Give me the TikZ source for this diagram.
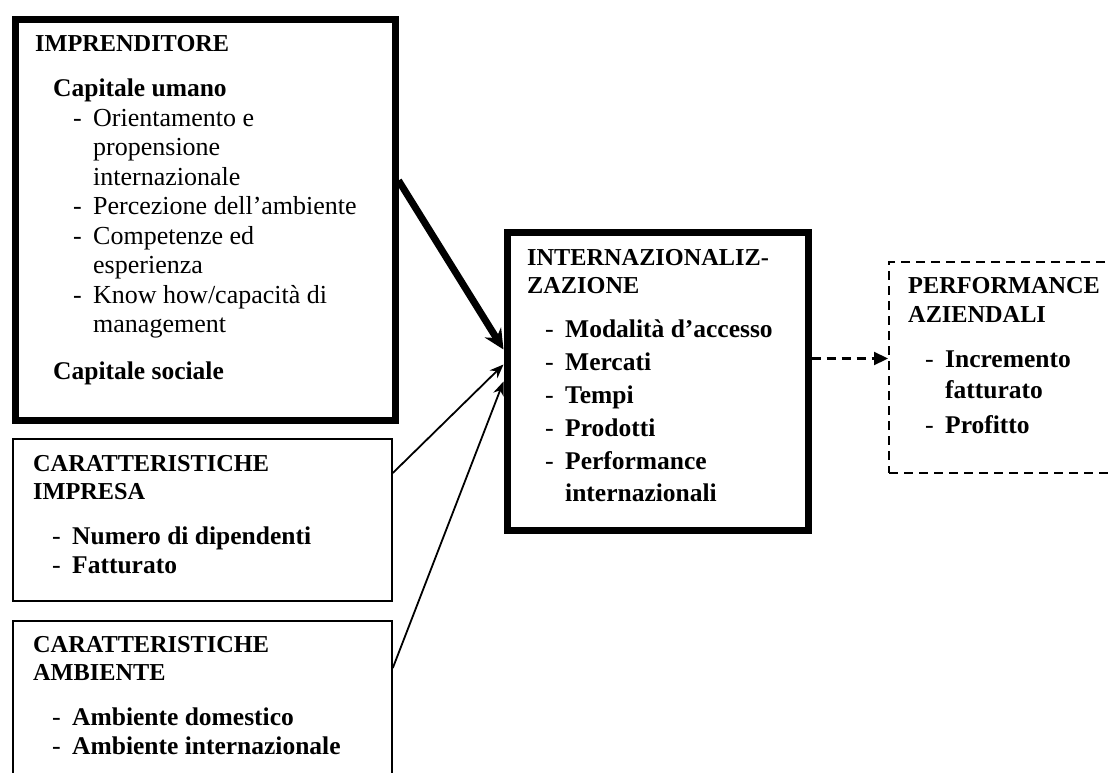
\documentclass[tikz,border=0pt]{standalone}
\usepackage{fontspec}
\setmainfont{Liberation Serif}
\usetikzlibrary{arrows.meta,calc}
% dash item and its continuation line inside a text block
\newcommand{\lstdash}[1]{\hspace*{#1}\makebox[20pt][l]{-}}
\newcommand{\lstcont}[1]{\hspace*{#1}\hspace*{20pt}}
% heading and bold entry faces
\newcommand{\hd}[1]{{\fontsize{24.3}{29.5}\selectfont\bfseries #1}}
\newcommand{\bent}[1]{{\fontsize{25.5}{29.5}\selectfont\bfseries #1}}
\begin{document}
\begin{tikzpicture}[x=1pt,y=-1pt,
  heavybox/.style={draw, line width=7pt, inner sep=0pt, anchor=north west},
  lightbox/.style={draw, line width=1.8pt, inner sep=0pt, anchor=north west},
  dashbox/.style={draw, line width=2pt, dash pattern=on 9pt off 6pt, inner sep=0pt, anchor=north west},
  txt/.style={inner sep=0pt, anchor=base west},
  heavyarrow/.style={line width=7pt, -{Stealth[length=20pt,width=19pt]}},
  lightarrow/.style={line width=1.8pt, -{Stealth[length=14pt,width=11pt]}},
  dasharrow/.style={line width=2.2pt, dash pattern=on 9pt off 6pt, -{Triangle[length=14pt,width=13pt]}},
]
\useasboundingbox (0,0) rectangle (1108,773);
\clip (0,0) rectangle (1108,773);

% frames
\node[heavybox, minimum width=380pt, minimum height=400pt] (imp) at (11.5,16.5) {};
\node[lightbox, minimum width=379pt, minimum height=162pt] (impresa) at (12,438) {};
\node[lightbox, minimum width=379pt, minimum height=220pt] (ambiente) at (12,620) {};
\node[heavybox, minimum width=301pt, minimum height=298pt] (intl) at (503.5,228.5) {};
\node[dashbox, minimum width=250pt, minimum height=211pt] (perf) at (888,261) {};

% texts
\node[txt] (impT) at (35,52) {\fontsize{26}{29.5}\selectfont
\begin{tabular}[t]{@{}l@{}}
\hd{IMPRENDITORE}\\[15.5pt]
\hspace*{18pt}\bent{Capitale umano}\\
\lstdash{38pt}Orientamento e\\
\lstcont{38pt}propensione\\
\lstcont{38pt}internazionale\\
\lstdash{38pt}Percezione dell’ambiente\\
\lstdash{38pt}Competenze ed\\
\lstcont{38pt}esperienza\\
\lstdash{38pt}Know how/capacità di\\
\lstcont{38pt}management\\[17.5pt]
\hspace*{18pt}\bent{Capitale sociale}
\end{tabular}};

\node[txt] (impresaT) at (33,471) {\fontsize{26}{28.5}\selectfont
\begin{tabular}[t]{@{}l@{}}
\hd{CARATTERISTICHE}\\
\hd{IMPRESA}\\[16.5pt]
\lstdash{19pt}\bent{Numero di dipendenti}\\
\lstdash{19pt}\bent{Fatturato}
\end{tabular}};

\node[txt] (ambienteT) at (33,652) {\fontsize{26}{28.5}\selectfont
\begin{tabular}[t]{@{}l@{}}
\hd{CARATTERISTICHE}\\
\hd{AMBIENTE}\\[16.5pt]
\lstdash{19pt}\bent{Ambiente domestico}\\
\lstdash{19pt}\bent{Ambiente internazionale}
\end{tabular}};

\node[txt] (intlT) at (527,265) {\fontsize{26}{33}\selectfont
\begin{tabular}[t]{@{}l@{}}
\hd{INTERNAZIONALIZ-}\\[-5pt]
\hd{ZAZIONE}\\[11pt]
\lstdash{18pt}\bent{Modalità d’accesso}\\
\lstdash{18pt}\bent{Mercati}\\
\lstdash{18pt}\bent{Tempi}\\
\lstdash{18pt}\bent{Prodotti}\\
\lstdash{18pt}\bent{Performance}\\[-1pt]
\lstcont{18pt}\bent{internazionali}
\end{tabular}};

\node[txt] (perfT) at (908,293) {\fontsize{26}{33}\selectfont
\begin{tabular}[t]{@{}l@{}}
\hd{PERFORMANCE}\\[-4pt]
\hd{AZIENDALI}\\[12pt]
\lstdash{17pt}\bent{Incremento}\\[-2pt]
\lstcont{17pt}\bent{fatturato}\\[2pt]
\lstdash{17pt}\bent{Profitto}
\end{tabular}};

% connectors
\coordinate (dashfrom) at ([yshift=-130pt]intl.north east);
\draw[heavyarrow] ([yshift=-164pt]imp.north east) -- ([yshift=-121pt]intl.north west);
\draw[lightarrow] ([yshift=-35pt]impresa.north east) -- ([yshift=-136pt]intl.north west);
\draw[lightarrow] ([yshift=-48pt]ambiente.north east) -- ([yshift=-153pt]intl.north west);
\draw[dasharrow] (dashfrom) -- (perf.west |- dashfrom);
\end{tikzpicture}
\end{document}
